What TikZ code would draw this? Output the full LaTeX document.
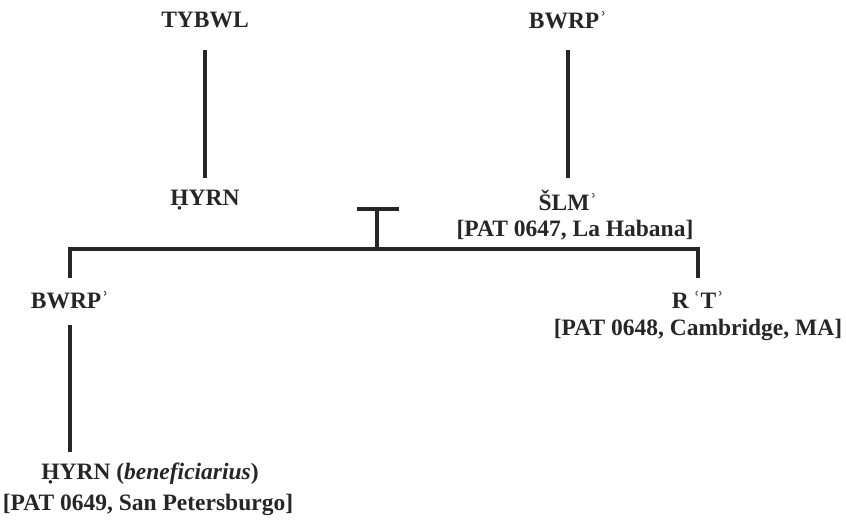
\documentclass[tikz,border=0pt]{standalone}
\usepackage{fontspec}
\setmainfont{Liberation Serif}
\begin{document}
\begin{tikzpicture}[x=1pt,y=-1pt,
  lbl/.style={font=\bfseries\fontsize{23.5}{28}\selectfont, text=black!85, inner sep=0pt, align=center},
  ln/.style={line width=4pt, draw=black!85}]
\useasboundingbox (0,0) rectangle (846,528);
\node[lbl] (tybwl) at (205,20) {TYBWL};
\node[lbl] (bwrp1) at (568,20) {BWRPʾ};
\node[lbl] (hyrn1) at (205,200) {ḤYRN};
\node[lbl] (slm) at (568,200) {ŠLMʾ};
\node[lbl] (pat47) at (575,230) {[PAT 0647, La Habana]};
\node[lbl] (bwrp2) at (70,300) {BWRPʾ};
\node[lbl] (rt) at (698,300) {R\,ʿTʾ};
\node[lbl] (pat48) at (698,330) {[PAT 0648, Cambridge, MA]};
\node[lbl] (hyrn2) at (150,474) {ḤYRN (\textit{beneficiarius})};
\node[lbl] (pat49) at (148,505) {[PAT 0649, San Petersburgo]};
\coordinate (a1) at (205,50); \coordinate (a2) at (205,178);
\coordinate (b1) at (568,50); \coordinate (b2) at (568,178);
\draw[ln] (a1) -- (a2);
\draw[ln] (b1) -- (b2);
\coordinate (tl) at (357,209); \coordinate (tr) at (399,209);
\coordinate (tm) at (377,209); \coordinate (hm) at (377,249);
\draw[ln] (tl) -- (tr);
\draw[ln] (tm) -- (hm);
\coordinate (hl) at (70,249); \coordinate (hr) at (698,249);
\coordinate (dl) at (70,278); \coordinate (dr) at (698,278);
\draw[ln] (dl) -- (hl) -- (hr) -- (dr);
\coordinate (c1) at (70,325); \coordinate (c2) at (70,452);
\draw[ln] (c1) -- (c2);
\end{tikzpicture}
\end{document}
